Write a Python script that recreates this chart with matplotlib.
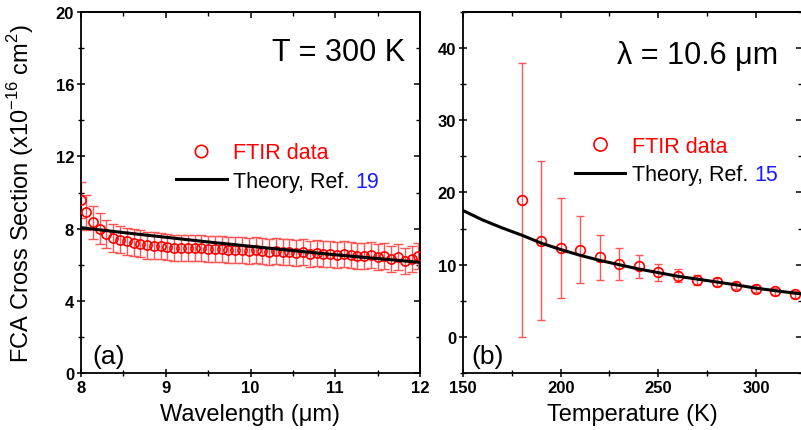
import numpy as np
import matplotlib.pyplot as plt
from matplotlib.ticker import MultipleLocator

plt.rcParams['font.family'] = ['Liberation Sans', 'DejaVu Sans']
plt.rcParams['mathtext.fontset'] = 'custom'
plt.rcParams['mathtext.rm'] = 'Liberation Sans'
plt.rcParams['axes.linewidth'] = 1.3

# panel (a): cross section vs wavelength at 300 K
wl = [8.00, 8.06, 8.14, 8.22, 8.30, 8.38, 8.46, 8.54, 8.62, 8.70,
      8.78, 8.86, 8.94, 9.02, 9.10, 9.18, 9.26, 9.34, 9.42, 9.50,
      9.58, 9.66, 9.74, 9.82, 9.90, 9.98, 10.06, 10.14, 10.22, 10.30,
      10.38, 10.46, 10.54, 10.62, 10.70, 10.78, 10.86, 10.94, 11.02, 11.10,
      11.18, 11.26, 11.34, 11.42, 11.50, 11.58, 11.66, 11.74, 11.82, 11.90,
      11.98]
sig_wl = [9.6, 8.9, 8.35, 8.0, 7.7, 7.5, 7.38, 7.3, 7.22, 7.15,
          7.08, 7.05, 7.02, 7.0, 6.95, 6.95, 6.92, 6.9, 6.92, 6.88,
          6.87, 6.85, 6.82, 6.8, 6.8, 6.78, 6.8, 6.75, 6.72, 6.75,
          6.72, 6.7, 6.65, 6.68, 6.62, 6.65, 6.6, 6.62, 6.55, 6.58,
          6.52, 6.5, 6.48, 6.52, 6.45, 6.5, 6.3, 6.45, 6.2, 6.3,
          6.5]
err_wl = [1.0, 0.95, 0.9, 0.85, 0.8, 0.78, 0.75, 0.75, 0.75, 0.75,
          0.75, 0.75, 0.72, 0.72, 0.72, 0.72, 0.72, 0.72, 0.72, 0.72,
          0.72, 0.72, 0.72, 0.72, 0.72, 0.72, 0.72, 0.72, 0.72, 0.72,
          0.72, 0.72, 0.72, 0.72, 0.72, 0.72, 0.72, 0.72, 0.72, 0.72,
          0.72, 0.72, 0.72, 0.72, 0.72, 0.72, 0.72, 0.72, 0.72, 0.72,
          0.72]
theory_wl = [8.0, 8.5, 9.0, 9.5, 10.0, 10.5, 11.0, 11.5, 12.0]
theory_sig_wl = [8.05, 7.78, 7.52, 7.26, 7.02, 6.78, 6.55, 6.34, 6.13]

# panel (b): cross section vs temperature at 10.6 um
temp = [180, 190, 200, 210, 220, 230, 240, 250, 260, 270, 280, 290, 300, 310, 320]
sig_t = [19.0, 13.3, 12.3, 12.1, 11.05, 10.15, 9.8, 8.95, 8.5, 7.9, 7.6, 7.1, 6.7, 6.3, 5.9]
err_t = [19.0, 11.0, 6.9, 4.6, 3.1, 2.2, 1.6, 1.2, 0.9, 0.7, 0.6, 0.5, 0.5, 0.5, 0.5]
theory_t = [150, 160, 170, 180, 190, 200, 210, 220, 230, 240, 250, 260,
            270, 280, 290, 300, 310, 320, 324]
theory_sig_t = [17.5, 16.2, 15.1, 14.1, 13.0, 12.1, 11.3, 10.6, 10.0, 9.4, 8.9, 8.4,
                8.0, 7.6, 7.2, 6.75, 6.4, 6.05, 5.95]

W, H = 801, 431
fig = plt.figure(figsize=(W / 100, H / 100), dpi=100)
ax1 = fig.add_axes([81 / W, 57 / H, 339 / W, 361 / H])
ax2 = fig.add_axes([463 / W, 57 / H, 339 / W, 361 / H])

red = '#ff0000'
ebar_col = '#ff5555'


def style_axis(ax, xmaj, xmin, ymaj, ymin):
    ax.xaxis.set_major_locator(MultipleLocator(xmaj))
    ax.xaxis.set_minor_locator(MultipleLocator(xmin))
    ax.yaxis.set_major_locator(MultipleLocator(ymaj))
    ax.yaxis.set_minor_locator(MultipleLocator(ymin))
    ax.tick_params(which='major', direction='inout', length=6, width=1.1,
                   labelsize=12, pad=2)
    ax.tick_params(which='minor', direction='inout', length=4, width=1.0)
    for lab in ax.get_xticklabels() + ax.get_yticklabels():
        lab.set_fontweight('bold')
    # inward ticks on top and right
    top = ax.secondary_xaxis('top')
    top.xaxis.set_major_locator(MultipleLocator(xmaj))
    top.xaxis.set_minor_locator(MultipleLocator(xmin))
    top.tick_params(which='major', direction='in', length=4.5, width=1.1, labeltop=False)
    top.tick_params(which='minor', direction='in', length=3, width=1.0)
    right = ax.secondary_yaxis('right')
    right.yaxis.set_major_locator(MultipleLocator(ymaj))
    right.yaxis.set_minor_locator(MultipleLocator(ymin))
    right.tick_params(which='major', direction='in', length=4.5, width=1.1, labelright=False)
    right.tick_params(which='minor', direction='in', length=3, width=1.0)


def add_legend(ax, anchor, ref):
    leg = ax.legend(loc='upper left', bbox_to_anchor=anchor, frameon=False,
                    fontsize=15.5, handlelength=2.35, handletextpad=0.3,
                    labelspacing=0.35, borderpad=0, borderaxespad=0,
                    numpoints=1, markerscale=1.35)
    leg.get_texts()[0].set_color(red)
    ax.annotate(ref, xy=(1, 0), xycoords=leg.get_texts()[1], xytext=(4.3, 0),
                textcoords='offset points', ha='left', va='bottom',
                fontsize=15.5, color='#1a1aff', zorder=10)


# (a)
ax1.errorbar(wl, sig_wl, yerr=err_wl, fmt='none', ecolor=ebar_col, elinewidth=1.0,
             capsize=3.5, capthick=1.0, zorder=2)
ax1.plot(wl, sig_wl, 'o', mfc='none', mec=red, ms=6.6, mew=1.2, zorder=3,
         label='FTIR data')
ax1.plot(theory_wl, theory_sig_wl, '-', color='black', lw=2.2, zorder=4,
         label='Theory, Ref.')
ax1.set_xlim(8, 12)
ax1.set_ylim(0, 20)
style_axis(ax1, 1, 0.5, 4, 2)
ax1.set_xlabel('Wavelength (μm)', fontsize=17)
ax1.set_ylabel('FCA Cross Section (x10$^{-16}$ cm$^{2}$)', fontsize=17)
ax1.yaxis.set_label_coords(-0.132, 0.5)
ax1.xaxis.set_label_coords(0.5, -0.082)
ax1.text(0.955, 0.89, 'T = 300 K', transform=ax1.transAxes, ha='right',
         va='center', fontsize=22)
ax1.text(0.035, 0.047, '(a)', transform=ax1.transAxes, ha='left',
         va='center', fontsize=19)
add_legend(ax1, (0.28, 0.639), '19')

# (b)
ax2.errorbar(temp, sig_t, yerr=err_t, fmt='none', ecolor=ebar_col, elinewidth=1.0,
             capsize=3.2, capthick=1.0, zorder=2)
ax2.plot(temp, sig_t, 'o', mfc='none', mec=red, ms=7.0, mew=1.2, zorder=3,
         label='FTIR data')
ax2.plot(theory_t, theory_sig_t, '-', color='black', lw=2.2, zorder=4,
         label='Theory, Ref.')
ax2.set_xlim(150, 323.6)
ax2.set_ylim(-5, 45)
style_axis(ax2, 50, 25, 10, 5)
ax2.set_xlabel('Temperature (K)', fontsize=17)
ax2.xaxis.set_label_coords(0.5, -0.082)
ax2.text(0.93, 0.88, 'λ = 10.6 μm', transform=ax2.transAxes, ha='right',
         va='center', fontsize=22)
ax2.text(0.025, 0.047, '(b)', transform=ax2.transAxes, ha='left',
         va='center', fontsize=19)
add_legend(ax2, (0.33, 0.657), '15')

fig.savefig('out.png', dpi=100)
